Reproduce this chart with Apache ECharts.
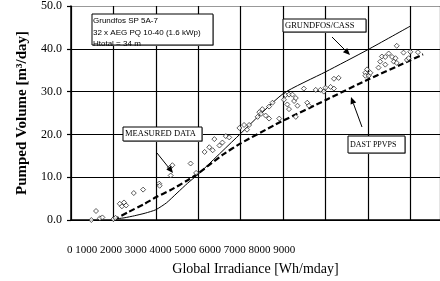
<!DOCTYPE html>
<html>
<head>
<meta charset="utf-8">
<script src="https://cdn.jsdelivr.net/npm/echarts@6/dist/echarts.min.js"></script>
<style>
  html, body { margin: 0; padding: 0; background: #fff; }
  #chart { width: 440px; height: 281px; }
</style>
</head>
<body>
<div id="chart"></div>
<script>
  // values: [irradiance Wh/m2day, volume m3/day]
  const measured = [
    [480, 0], [590, 2.1], [680, 0.4], [740, 0.6], [1000, 0.2], [1050, 0.5],
    [1150, 3.8], [1200, 3.2], [1250, 4.1], [1300, 3.4], [1480, 6.3], [1700, 7.1],
    [2080, 8.5], [2090, 8.0], [2330, 12.2], [2390, 12.8], [2350, 10.4], [2820, 13.2],
    [2950, 11.0], [3150, 15.9], [3260, 17.0], [3340, 16.3], [3380, 18.9], [3500, 17.4],
    [3570, 18.1], [3650, 19.6], [3730, 19.3], [3970, 21.5], [4080, 22.2], [4150, 21.1],
    [4200, 22.2], [4400, 24.1], [4440, 25.2], [4480, 24.8], [4510, 25.9], [4590, 24.4],
    [4670, 26.5], [4670, 23.7], [4750, 27.4], [4910, 23.7], [5020, 28.1], [5060, 29.2],
    [5100, 27.0], [5140, 25.9], [5140, 29.3], [5220, 29.3], [5260, 27.8], [5300, 28.5],
    [5300, 24.1], [5340, 26.7], [5490, 30.7], [5570, 27.4], [5610, 26.7], [5770, 30.4],
    [5880, 30.4], [5960, 30.0], [6000, 30.9], [6120, 31.1], [6200, 30.7], [6200, 33.0],
    [6310, 33.2], [6940, 34.4], [6940, 33.7], [6980, 35.2], [7020, 33.7], [7060, 34.4],
    [7250, 35.6], [7290, 37.0], [7330, 38.2], [7410, 38.1], [7410, 36.3], [7490, 38.9],
    [7570, 38.1], [7610, 37.0], [7650, 37.8], [7680, 40.7], [7680, 36.7], [7840, 39.1],
    [7920, 37.4], [7960, 37.8], [8000, 39.3], [8180, 39.2]
  ];
  const grundfosCass = [
    [1000, 0.2], [1250, 0.5], [1500, 1.0], [1750, 1.6], [2000, 2.4], [2250, 4.0],
    [2500, 6.3], [2750, 8.6], [3000, 10.7], [4000, 20.2], [5000, 29.5], [6000, 34.6],
    [7000, 39.8], [8000, 45.3]
  ];
  const dastPpvps = [
    [1000, 0], [1360, 1.9], [1720, 3.7], [2000, 5.3], [2350, 7.0], [2750, 9.3],
    [3000, 10.9], [3570, 15.2], [4000, 17.9], [4800, 22.2], [5000, 23.2], [6000, 28.0],
    [7000, 32.8], [8000, 37.3], [8300, 38.7]
  ];
  const xTickText = '0 1000 2000 3000 4000 5000 6000 7000 8000 9000';
  const infoLines = ['Grundfos SP 5A-7', '32 x AEG PQ 10-40 (1.6 kWp)', 'Htotal = 34 m'];

  const SERIF = "'Liberation Serif', 'DejaVu Serif', serif";
  const SANS = "'Liberation Sans', Arial, sans-serif";

  function arrow(x1, y1, x2, y2) {
    const a = Math.atan2(y2 - y1, x2 - x1);
    const len = 7, w = 3;
    const bx = x2 - len * Math.cos(a), by = y2 - len * Math.sin(a);
    return [
      { type: 'line', shape: { x1, y1, x2: bx, y2: by }, style: { stroke: '#000', lineWidth: 1 }, z: 100 },
      {
        type: 'polygon', z: 100,
        shape: { points: [[x2, y2], [bx + w * Math.sin(a), by - w * Math.cos(a)], [bx - w * Math.sin(a), by + w * Math.cos(a)]] },
        style: { fill: '#000' },
      },
    ];
  }

  function box(x, y, w, h, text, font, tx, ty) {
    return [
      { type: 'rect', z: 100, shape: { x: x + 1, y: y + 1, width: w, height: h }, style: { fill: '#aaa' } },
      { type: 'rect', z: 101, shape: { x, y, width: w, height: h }, style: { fill: '#fff', stroke: '#000', lineWidth: 1 } },
      { type: 'text', z: 102, x: tx, y: ty, style: { text, font, fill: '#000', verticalAlign: 'middle' } },
    ];
  }

  const graphics = [].concat(
    [{ type: 'text', x: 67, y: 250, style: { text: xTickText, font: '11px ' + SERIF, fill: '#000', verticalAlign: 'middle' } }],
    [
      { type: 'rect', z: 100, shape: { x: 93, y: 15, width: 121, height: 31 }, style: { fill: '#aaa' } },
      { type: 'rect', z: 101, shape: { x: 92, y: 14, width: 121, height: 31 }, style: { fill: '#fff', stroke: '#000', lineWidth: 1 } },
    ],
    infoLines.map((t, i) => ({
      type: 'text', z: 102, x: 93, y: 21 + i * 11.5,
      style: { text: t, font: '8px ' + SANS, fill: '#000', verticalAlign: 'middle' },
    })),
    box(123, 127, 79, 14, 'MEASURED DATA', '8.5px ' + SERIF, 125, 134),
    box(283, 19, 83, 13, 'GRUNDFOS/CASS', '8.5px ' + SERIF, 285, 26),
    box(348, 136, 57, 17, 'DAST PPVPS', '8px ' + SERIF, 350, 145),
    arrow(157, 153, 173, 173),
    arrow(332, 37, 350, 55),
    arrow(362, 127, 351, 97)
  );

  const chart = echarts.init(document.getElementById('chart'), null, { renderer: 'canvas' });
  chart.setOption({
    animation: false,
    backgroundColor: '#fff',
    grid: { left: 71, right: -2, top: 5, bottom: 51 },
    xAxis: {
      type: 'value', min: 0, max: 8700, interval: 1000,
      name: 'Global Irradiance [Wh/mday]', nameLocation: 'middle', nameGap: 42,
      nameTextStyle: { fontFamily: SERIF, fontSize: 14, color: '#000' },
      axisLine: { show: true, lineStyle: { color: '#000', width: 1.5 } },
      axisTick: { show: false },
      axisLabel: { show: false },
      splitLine: { show: true, lineStyle: { color: '#000', width: 1.2 } },
    },
    yAxis: {
      type: 'value', min: 0, max: 50, interval: 10,
      name: 'Pumped Volume [m³/day]', nameLocation: 'middle', nameGap: 33,
      nameTextStyle: { fontFamily: SERIF, fontSize: 15, fontWeight: 'bold', color: '#000' },
      axisLine: { show: true, lineStyle: { color: '#000', width: 1.5 } },
      axisTick: { show: true, inside: false, length: 4, lineStyle: { color: '#000', width: 1.2 } },
      axisLabel: { formatter: (v) => v.toFixed(1), fontFamily: SERIF, fontSize: 12, color: '#000', margin: 9 },
      splitLine: { show: true, lineStyle: { color: ['#000', '#000', '#000', '#000', '#000', '#999'], width: 1.2 } },
    },
    series: [
      {
        name: 'GRUNDFOS/CASS', type: 'line', data: grundfosCass, showSymbol: false, smooth: 0.2,
        lineStyle: { color: '#000', width: 1 }, z: 3,
      },
      {
        name: 'DAST PPVPS', type: 'line', data: dastPpvps, showSymbol: false, smooth: 0.2,
        lineStyle: { color: '#000', width: 2.2, type: [6, 3] }, z: 3,
      },
      {
        name: 'MEASURED DATA', type: 'scatter', data: measured, symbol: 'diamond', symbolSize: 5,
        itemStyle: { color: '#fff', borderColor: '#000', borderWidth: 0.8 }, z: 4,
      },
    ],
    graphic: graphics,
  });
</script>
</body>
</html>
